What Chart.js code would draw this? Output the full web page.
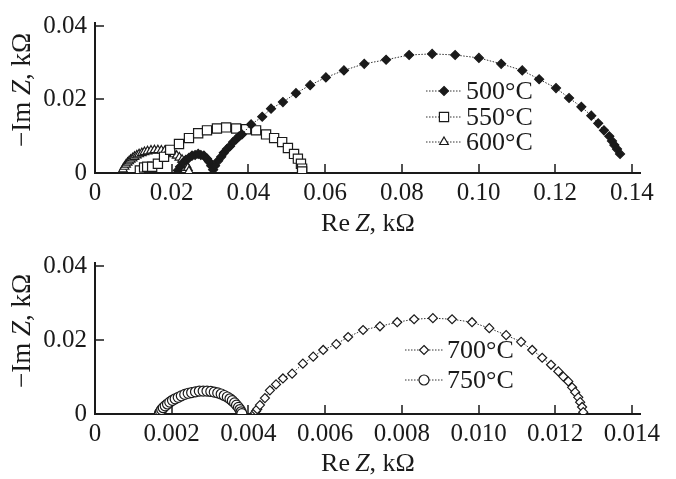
<!DOCTYPE html>
<html>
<head>
<meta charset="utf-8">
<script src="https://cdn.jsdelivr.net/npm/chart.js"></script>
<style>
body { margin: 0; background: #fff; }
canvas { position: absolute; left: 0; }
#top { top: 0; }
#bottom { top: 240px; }
</style>
</head>
<body>
<canvas id="top" width="676" height="240"></canvas>
<canvas id="bottom" width="676" height="239"></canvas>
<script>
// Re Z / -Im Z, kOhm
var re500 = [0.0216,0.0222,0.0230,0.0237,0.0245,0.0253,0.0261,0.0269,0.0276,0.0284,0.0292,0.0297,0.0303,0.0308,0.0313,0.0321,0.0329,0.0336,0.0344,0.0352,0.0360,0.0368,0.0376,0.0383,0.0407,0.0436,0.0459,0.0490,0.0524,0.0561,0.0602,0.0649,0.0702,0.0759,0.0819,0.0879,0.0939,0.1001,0.1059,0.1114,0.1158,0.1202,0.1236,0.1268,0.1294,0.1312,0.1327,0.1341,0.1348,0.1354,0.1361,0.1369];
var im500 = [0.0007,0.0017,0.0028,0.0036,0.0041,0.0047,0.0049,0.0052,0.0049,0.0047,0.0039,0.0031,0.0020,0.0009,0.0020,0.0033,0.0044,0.0055,0.0065,0.0073,0.0084,0.0092,0.0100,0.0105,0.0132,0.0153,0.0175,0.0193,0.0217,0.0239,0.0260,0.0279,0.0297,0.0308,0.0321,0.0324,0.0321,0.0313,0.0297,0.0279,0.0255,0.0231,0.0204,0.0180,0.0156,0.0135,0.0116,0.0100,0.0087,0.0076,0.0065,0.0052];

var re550 = [0.0117,0.0128,0.0136,0.0149,0.0164,0.0180,0.0196,0.0219,0.0245,0.0269,0.0292,0.0318,0.0342,0.0368,0.0394,0.0420,0.0446,0.0467,0.0488,0.0503,0.0519,0.0529,0.0537,0.0540,0.0540];
var im550 = [0.0007,0.0015,0.0017,0.0017,0.0025,0.0044,0.0063,0.0079,0.0095,0.0108,0.0116,0.0121,0.0124,0.0121,0.0119,0.0116,0.0105,0.0095,0.0084,0.0068,0.0052,0.0039,0.0025,0.0012,0.0004];

var re600 = [0.0073,0.0077,0.0081,0.0085,0.0089,0.0093,0.0098,0.0103,0.0109,0.0115,0.0122,0.0129,0.0137,0.0146,0.0155,0.0164,0.0173,0.0182,0.0190,0.0198,0.0206,0.0213,0.0220,0.0227,0.0233,0.0238,0.0242,0.0245];
var im600 = [0.0010,0.0017,0.0023,0.0028,0.0032,0.0036,0.0040,0.0044,0.0048,0.0051,0.0054,0.0057,0.0059,0.0061,0.0062,0.0062,0.0061,0.0060,0.0058,0.0055,0.0051,0.0047,0.0042,0.0036,0.0029,0.0022,0.0014,0.0005];

var re700 = [0.00417,0.00420,0.00423,0.00430,0.00443,0.00456,0.00472,0.00490,0.00514,0.00542,0.00569,0.00595,0.00629,0.00660,0.00699,0.00743,0.00788,0.00832,0.00881,0.00931,0.00983,0.01028,0.01072,0.01111,0.01140,0.01166,0.01189,0.01208,0.01221,0.01234,0.01244,0.01252,0.01260,0.01265,0.01270,0.01273];
var im700 = [0.0003,0.0008,0.0013,0.0024,0.0043,0.0064,0.0080,0.0096,0.0109,0.0136,0.0155,0.0173,0.0189,0.0208,0.0227,0.0237,0.0248,0.0256,0.0259,0.0256,0.0248,0.0232,0.0213,0.0195,0.0173,0.0152,0.0133,0.0115,0.0101,0.0088,0.0072,0.0059,0.0045,0.0032,0.0019,0.0005];

var re750 = [0.00168,0.00171,0.00174,0.00178,0.00183,0.00189,0.00195,0.00202,0.00209,0.00217,0.00225,0.00234,0.00243,0.00252,0.00262,0.00272,0.00282,0.00292,0.00302,0.00311,0.00320,0.00329,0.00337,0.00345,0.00352,0.00358,0.00364,0.00369,0.00374,0.00378,0.00381,0.00383];
var im750 = [0.0002,0.0007,0.0012,0.0017,0.0022,0.0027,0.0032,0.0037,0.0041,0.0045,0.0049,0.0053,0.0056,0.0058,0.0060,0.0062,0.0062,0.0062,0.0061,0.0059,0.0057,0.0054,0.0050,0.0046,0.0041,0.0036,0.0030,0.0024,0.0018,0.0012,0.0006,0.0001];

var labelsTop = ['500°C', '550°C', '600°C'];
var labelsBottom = ['700°C', '750°C'];

var SERIF = "'Liberation Serif', 'Times New Roman', serif";
var INK = '#1a1a1a';

function pts(xs, ys) {
    return xs.map(function (x, i) { return { x: x, y: ys[i] }; });
}

function series(label, xs, ys, style, r, fill) {
    return {
        label: label,
        data: pts(xs, ys),
        showLine: true,
        borderColor: '#333',
        borderWidth: 1,
        borderDash: [1.5, 1.5],
        pointStyle: style,
        pointRadius: r,
        pointBackgroundColor: fill,
        pointBorderColor: INK,
        pointBorderWidth: 1.2
    };
}

function marker(ctx, style, x, y, r) {
    ctx.beginPath();
    if (style === 'rectRot') {
        ctx.moveTo(x, y - r); ctx.lineTo(x + r, y); ctx.lineTo(x, y + r); ctx.lineTo(x - r, y);
    } else if (style === 'rect') {
        var h = r * Math.SQRT1_2;
        ctx.rect(x - h, y - h, 2 * h, 2 * h);
    } else if (style === 'triangle') {
        for (var k = 0; k < 3; k++) {
            var a = k * 2 * Math.PI / 3;
            var px = x + Math.sin(a) * r, py = y - Math.cos(a) * r;
            if (k === 0) ctx.moveTo(px, py); else ctx.lineTo(px, py);
        }
    } else {
        ctx.arc(x, y, r, 0, 2 * Math.PI);
    }
    ctx.closePath();
    ctx.fill();
    ctx.stroke();
}

function mixedText(ctx, parts, x, y, size) {
    var w = 0;
    parts.forEach(function (p) {
        ctx.font = (p[1] ? 'italic ' : '') + size + 'px ' + SERIF;
        w += ctx.measureText(p[0]).width;
    });
    var cx = x - w / 2;
    ctx.textAlign = 'left';
    parts.forEach(function (p) {
        ctx.font = (p[1] ? 'italic ' : '') + size + 'px ' + SERIF;
        ctx.fillText(p[0], cx, y);
        cx += ctx.measureText(p[0]).width;
    });
}

// inward ticks, axis titles with italic Z, legend inside the plot
var decor = {
    id: 'decor',
    afterDraw: function (chart, args, o) {
        var ctx = chart.ctx, a = chart.chartArea;
        var xs = chart.scales.x, ys = chart.scales.y;
        ctx.save();
        ctx.strokeStyle = INK;
        ctx.lineWidth = 1.5;
        ctx.beginPath();
        xs.ticks.forEach(function (t) {
            if (t.value === 0) return;
            var px = Math.round(xs.getPixelForValue(t.value));
            ctx.moveTo(px, a.bottom); ctx.lineTo(px, a.bottom - 9);
        });
        ys.ticks.forEach(function (t) {
            if (t.value === 0) return;
            var py = Math.round(ys.getPixelForValue(t.value));
            ctx.moveTo(a.left, py); ctx.lineTo(a.left + 9, py);
        });
        ctx.stroke();

        ctx.fillStyle = INK;
        ctx.textBaseline = 'middle';
        mixedText(ctx, [['Re\u2009', false], ['Z', true], [', k\u03a9', false]], o.xTitleX, o.xTitleY, 26);
        ctx.save();
        ctx.translate(o.yTitleX, o.yTitleY);
        ctx.rotate(-Math.PI / 2);
        mixedText(ctx, [['\u2212Im ', false], ['Z', true], [', k\u03a9', false]], 0, 0, 27);
        ctx.restore();

        chart.data.datasets.forEach(function (ds, i) {
            var y = o.legendY[i];
            ctx.save();
            ctx.strokeStyle = '#333';
            ctx.lineWidth = 1;
            ctx.setLineDash([1.5, 1.5]);
            ctx.beginPath();
            ctx.moveTo(o.legendX0, y); ctx.lineTo(o.legendX1, y);
            ctx.stroke();
            ctx.restore();
            ctx.fillStyle = ds.pointBackgroundColor;
            ctx.strokeStyle = INK;
            ctx.lineWidth = 1.2;
            marker(ctx, ds.pointStyle, (o.legendX0 + o.legendX1) / 2, y, ds.pointRadius);
            ctx.fillStyle = INK;
            ctx.font = '26px ' + SERIF;
            ctx.textAlign = 'left';
            ctx.fillText(ds.label, o.legendTextX, y + 1);
        });
        ctx.restore();
    }
};

function makeChart(id, datasets, xmax, xstep, digits, height, bottomPx, top, deco) {
    var ctx = document.getElementById(id).getContext('2d');
    return new Chart(ctx, {
        type: 'scatter',
        data: { datasets: datasets },
        options: {
            responsive: false,
            animation: false,
            devicePixelRatio: 1,
            events: [],
            layout: { padding: { top: top, right: 36, left: 0, bottom: 0 } },
            plugins: { legend: { display: false }, tooltip: { enabled: false }, decor: deco },
            scales: {
                x: {
                    type: 'linear',
                    position: 'bottom',
                    min: 0,
                    max: xmax,
                    grid: { drawOnChartArea: false, drawTicks: false },
                    border: { display: true, color: INK, width: 2 },
                    ticks: {
                        stepSize: xstep,
                        includeBounds: false,
                        color: INK,
                        padding: 5,
                        font: { family: SERIF, size: 25 },
                        callback: function (v) { return v === 0 ? '0' : v.toFixed(digits); }
                    },
                    afterFit: function (s) { s.height = height - bottomPx; }
                },
                y: {
                    type: 'linear',
                    min: 0,
                    max: 0.0408,
                    grid: { drawOnChartArea: false, drawTicks: false },
                    border: { display: true, color: INK, width: 2 },
                    ticks: {
                        stepSize: 0.02,
                        includeBounds: false,
                        color: INK,
                        padding: 8,
                        font: { family: SERIF, size: 25 },
                        callback: function (v) { return v === 0 ? '0' : v.toFixed(2); }
                    },
                    afterFit: function (s) { s.width = 95; }
                }
            }
        },
        plugins: [decor]
    });
}

window.onload = function () {
    makeChart('top', [
        series(labelsTop[0], re500, im500, 'rectRot', 4.5, INK),
        series(labelsTop[1], re550, im550, 'rect', 6.5, '#fff'),
        series(labelsTop[2], re600, im600, 'triangle', 5, '#fff')
    ], 0.1421, 0.02, 2, 240, 173, 20, {
        xTitleX: 368, xTitleY: 224, yTitleX: 23, yTitleY: 90,
        legendX0: 426, legendX1: 462, legendTextX: 466, legendY: [91, 117, 142]
    });
    makeChart('bottom', [
        series(labelsBottom[0], re700, im700, 'rectRot', 4.5, '#fff'),
        series(labelsBottom[1], re750, im750, 'circle', 5, '#fff')
    ], 0.01421, 0.002, 3, 239, 174, 21, {
        xTitleX: 368, xTitleY: 224, yTitleX: 23, yTitleY: 91,
        legendX0: 405, legendX1: 443, legendTextX: 447, legendY: [110, 140]
    });
};
</script>
</body>
</html>
